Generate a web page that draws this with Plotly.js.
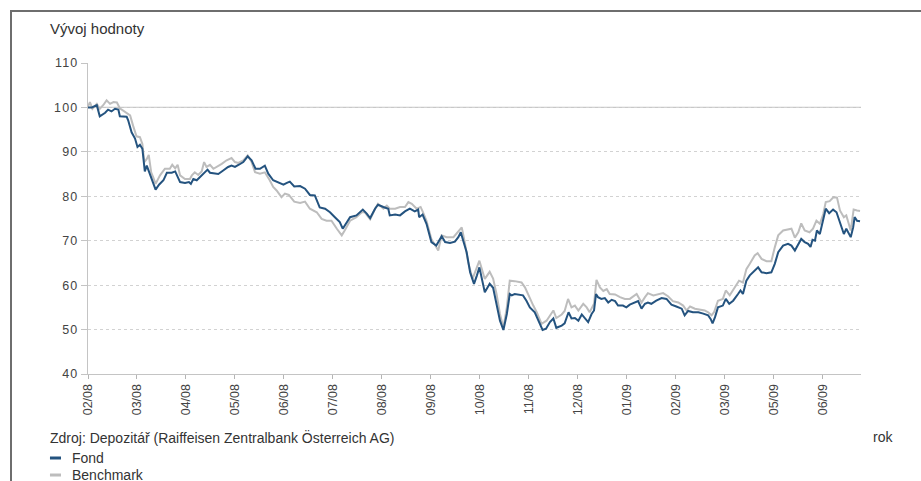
<!DOCTYPE html>
<html>
<head>
<meta charset="utf-8">
<script src="https://cdn.plot.ly/plotly-3.0.1.min.js"></script>
<style>
  html, body { margin: 0; padding: 0; background: #fff; }
  #wrap { position: relative; width: 921px; height: 481px; overflow: hidden; }
  #frame { position: absolute; left: 10px; top: 10px; width: 930px; height: 500px;
           border-left: 2px solid #6e6e6e; border-top: 2px solid #6e6e6e; }
  #chart { position: absolute; left: 0; top: 0; width: 921px; height: 481px; }
  #chart .yaxislayer-above text { letter-spacing: 1.2px; }
</style>
</head>
<body>
<div id="wrap">
  <div id="frame"></div>
  <div id="chart"></div>
</div>
<script>
// Tick labels (evenly spaced, one per tick position index)
const tickLabels = ["02/08","03/08","04/08","05/08","06/08","07/08","08/08","09/08",
                    "10/08","11/08","12/08","01/09","02/09","03/09","05/09","06/09"];
const tickPositions = tickLabels.map((_, i) => i);

// Fond: position (in tick-interval units) and value
const fondX = [0.00,0.08,0.18,0.24,0.35,0.41,0.48,0.55,0.62,0.65,0.79,0.82,0.89,0.96,1.01,1.06,1.11,1.16,1.20,1.24,
  1.30,1.38,1.45,1.54,1.61,1.71,1.78,1.81,1.88,1.98,2.06,2.10,2.15,2.22,2.29,2.39,2.44,2.49,2.59,2.66,
  2.76,2.86,2.93,3.00,3.08,3.17,3.26,3.34,3.42,3.51,3.61,3.68,3.78,3.88,3.99,4.06,4.12,4.21,4.33,4.43,
  4.53,4.63,4.73,4.84,4.94,5.04,5.14,5.20,5.28,5.35,5.48,5.61,5.69,5.76,5.86,5.92,6.03,6.13,6.16,6.27,
  6.37,6.47,6.57,6.67,6.74,6.76,6.83,6.91,7.01,7.11,7.22,7.29,7.39,7.49,7.56,7.61,7.66,7.73,7.80,7.88,
  7.94,7.99,8.10,8.20,8.27,8.34,8.41,8.48,8.55,8.61,8.65,8.71,8.82,8.88,8.95,9.02,9.12,9.19,9.28,9.35,
  9.43,9.50,9.56,9.67,9.73,9.81,9.87,9.94,10.01,10.08,10.14,10.21,10.28,10.33,10.37,10.41,10.48,10.55,10.62,10.69,
  10.76,10.82,10.92,10.99,11.06,11.16,11.23,11.30,11.37,11.43,11.50,11.60,11.71,11.81,11.91,12.01,12.12,12.18,12.25,12.35,
  12.46,12.56,12.66,12.71,12.75,12.80,12.86,12.96,13.02,13.09,13.17,13.27,13.32,13.37,13.44,13.51,13.61,13.68,13.75,13.85,
  13.95,14.02,14.09,14.19,14.29,14.36,14.43,14.50,14.56,14.63,14.70,14.75,14.79,14.84,14.88,14.94,14.99,15.06,15.13,15.21,
  15.28,15.35,15.43,15.48,15.57,15.62,15.65,15.70,15.76];
const fondY = [100.0,100.0,100.5,98.0,98.8,99.5,99.1,99.7,99.5,98.0,97.9,97.1,94.4,93.0,91.1,91.6,90.7,85.6,86.9,85.8,
  83.9,81.5,82.6,83.6,85.3,85.3,85.6,84.8,83.2,83.0,83.2,82.8,83.9,83.6,84.3,85.3,86.0,85.3,85.2,85.0,
  85.8,86.6,86.9,86.6,87.1,87.7,89.0,88.1,86.2,86.2,86.9,85.1,83.6,83.2,82.6,83.0,83.3,82.2,82.3,81.7,
  80.3,80.2,77.5,77.2,76.4,75.3,74.2,72.7,74.0,75.3,75.7,77.0,76.1,75.1,77.2,78.1,77.6,77.2,75.7,75.9,
  75.7,76.6,77.2,76.6,77.0,75.3,75.9,73.8,69.7,68.9,71.0,69.7,69.5,69.8,70.8,71.9,70.0,67.4,62.9,60.3,
  62.2,64.0,58.4,60.3,59.4,55.8,52.0,49.9,53.5,58.0,57.7,58.0,57.8,57.7,56.5,55.0,53.9,52.0,49.9,50.2,
  51.7,52.5,50.4,50.9,51.4,53.9,52.5,52.6,52.0,53.4,52.6,51.7,53.5,54.3,58.0,57.3,56.9,57.1,56.1,56.7,
  56.4,55.4,55.4,55.0,55.6,56.1,56.4,54.7,55.8,56.1,55.8,56.5,57.1,56.9,55.6,55.2,54.7,53.2,54.2,53.9,
  53.9,53.6,53.2,52.4,51.4,52.8,55.0,55.4,56.9,55.8,56.5,58.0,58.8,58.0,61.0,62.2,63.3,64.0,62.9,62.7,
  62.9,64.8,67.4,68.9,69.3,68.9,67.8,69.3,70.4,69.7,69.3,68.6,70.2,70.0,72.3,71.5,73.8,77.2,76.2,77.0,
  76.4,74.2,71.5,72.7,70.8,73.0,75.3,74.5,74.4];

// Benchmark: position (in tick-interval units) and value
const benchX = [0.00,0.04,0.09,0.18,0.24,0.31,0.38,0.45,0.52,0.59,0.65,0.72,0.79,0.86,0.92,0.99,1.06,1.11,1.15,1.20,
  1.24,1.29,1.33,1.38,1.47,1.57,1.67,1.72,1.78,1.83,1.88,1.98,2.08,2.12,2.18,2.25,2.32,2.37,2.42,2.49,
  2.56,2.63,2.73,2.83,2.93,3.00,3.07,3.17,3.26,3.34,3.41,3.51,3.61,3.71,3.78,3.85,3.95,4.02,4.10,4.21,
  4.33,4.43,4.53,4.67,4.77,4.87,4.97,5.08,5.18,5.24,5.35,5.48,5.59,5.65,5.76,5.86,5.92,6.03,6.10,6.16,
  6.27,6.37,6.47,6.54,6.61,6.71,6.79,6.84,6.91,7.01,7.15,7.22,7.32,7.46,7.56,7.63,7.69,7.76,7.85,7.92,
  7.99,8.10,8.20,8.27,8.34,8.41,8.48,8.55,8.61,8.71,8.85,8.92,8.99,9.09,9.16,9.26,9.36,9.43,9.50,9.56,
  9.67,9.73,9.80,9.87,9.94,10.01,10.11,10.18,10.24,10.33,10.38,10.45,10.52,10.59,10.65,10.76,10.86,10.96,11.06,11.20,
  11.30,11.37,11.43,11.54,11.64,11.74,11.84,11.94,12.05,12.15,12.22,12.29,12.39,12.49,12.59,12.66,12.73,12.78,12.86,12.96,
  13.02,13.10,13.20,13.29,13.37,13.44,13.51,13.61,13.67,13.75,13.85,13.95,14.02,14.09,14.19,14.29,14.36,14.43,14.50,14.56,
  14.63,14.73,14.80,14.87,14.94,15.01,15.06,15.14,15.22,15.29,15.35,15.43,15.48,15.57,15.63,15.70,15.76];
const benchY = [100.2,101.2,99.7,100.8,99.7,100.5,101.6,100.8,101.2,101.1,99.8,99.3,98.9,98.2,95.9,93.5,93.3,91.8,87.7,88.4,
  89.3,85.4,84.3,82.8,84.7,86.2,86.2,87.1,86.3,87.1,84.7,83.9,83.9,84.7,85.4,84.8,85.6,87.7,86.6,87.1,
  86.2,86.6,87.3,88.1,88.6,87.7,87.5,88.1,89.2,87.7,85.4,85.1,85.4,83.6,82.1,81.3,79.8,80.6,80.3,78.8,
  78.5,78.8,77.2,76.4,74.9,74.5,74.5,72.7,71.2,72.3,74.5,75.3,76.4,76.4,74.8,77.2,78.3,77.2,77.9,77.2,
  77.2,77.6,77.6,78.7,78.3,77.2,77.6,76.4,74.5,70.4,67.8,71.2,70.8,70.8,72.1,73.0,69.7,65.2,61.4,63.7,
  65.5,61.4,63.0,61.5,58.0,53.5,50.4,55.0,61.0,60.9,60.6,59.5,57.7,55.4,53.9,51.3,52.0,53.2,54.3,52.6,
  53.4,54.2,56.9,55.0,55.4,54.3,55.8,55.0,53.9,55.8,61.2,59.5,58.7,59.1,58.0,57.9,57.3,56.9,56.9,58.0,
  56.1,57.3,58.2,57.7,58.0,58.2,57.5,56.4,56.1,55.4,54.3,55.2,54.7,54.5,54.3,53.9,53.2,53.9,56.5,56.9,
  58.8,57.7,59.5,61.0,60.6,63.6,64.8,66.7,67.2,65.9,65.4,65.4,68.5,71.2,72.3,72.5,72.7,70.7,71.9,73.9,
  72.3,71.9,72.7,74.5,73.8,76.0,78.7,78.9,79.8,79.7,76.8,75.3,75.7,72.3,77.0,76.8,76.7];

const yTicks = [40, 50, 60, 70, 80, 90, 100, 110];
const baseline = 100;
const seriesNames = ["Fond", "Benchmark"];
const fondColor = "#24537f";
const benchColor = "#bdbdbd";

const font = "Liberation Sans, Arial, sans-serif";

const traces = [
  { x: benchX, y: benchY, type: "scatter", mode: "lines", name: seriesNames[1],
    line: { color: benchColor, width: 2 }, hoverinfo: "skip", showlegend: false },
  { x: fondX, y: fondY, type: "scatter", mode: "lines", name: seriesNames[0],
    line: { color: fondColor, width: 2 }, hoverinfo: "skip", showlegend: false }
];

const layout = {
  width: 921, height: 481,
  margin: { l: 88, r: 60, t: 63, b: 107, pad: 0 },
  paper_bgcolor: "rgba(0,0,0,0)",
  plot_bgcolor: "rgba(0,0,0,0)",
  font: { family: font, color: "#444", size: 12 },
  showlegend: false,
  xaxis: {
    range: [0, 15.78],
    tickmode: "array", tickvals: tickPositions, ticktext: tickLabels,
    tickangle: -90, ticks: "outside", ticklen: 4, tickcolor: "#b5b5b5",
    tickfont: { family: font, size: 12.5, color: "#444" },
    showgrid: false, zeroline: false,
    showline: true, linecolor: "#c4c4c4", linewidth: 1
  },
  yaxis: {
    range: [40, 110],
    tickmode: "array", tickvals: yTicks,
    ticks: "outside", ticklen: 6, tickcolor: "#c4c4c4",
    tickfont: { family: font, size: 12.5, color: "#444" },
    showgrid: true, gridcolor: "#d2d2d2", gridwidth: 1, griddash: "3px,3px",
    zeroline: false, showline: true, linecolor: "#c4c4c4", linewidth: 1
  },
  shapes: [
    { type: "line", xref: "paper", x0: 0, x1: 1, yref: "y", y0: baseline, y1: baseline,
      line: { color: "#c8c8c8", width: 1.2 }, layer: "below" },
    { type: "line", xref: "paper", x0: -0.0492, x1: -0.0349, yref: "paper", y0: -0.2701, y1: -0.2701,
      line: { color: fondColor, width: 3 } },
    { type: "line", xref: "paper", x0: -0.0492, x1: -0.0349, yref: "paper", y0: -0.3248, y1: -0.3248,
      line: { color: benchColor, width: 3 } }
  ],
  annotations: [
    { text: "Vývoj hodnoty", xref: "paper", yref: "paper", x: -0.0517, y: 1.1125,
      xanchor: "left", yanchor: "middle", showarrow: false,
      font: { family: font, size: 15, color: "#333" } },
    { text: "Zdroj: Depozitář (Raiffeisen Zentralbank Österreich AG)", xref: "paper", yref: "paper",
      x: -0.0517, y: -0.2026, xanchor: "left", yanchor: "middle", showarrow: false,
      font: { family: font, size: 14, color: "#333" } },
    { text: "rok", xref: "paper", yref: "paper", x: 1.0129, y: -0.2026,
      xanchor: "left", yanchor: "middle", showarrow: false,
      font: { family: font, size: 14, color: "#333" } },
    { text: seriesNames[0], xref: "paper", yref: "paper", x: -0.0233, y: -0.2701,
      xanchor: "left", yanchor: "middle", showarrow: false,
      font: { family: font, size: 14, color: "#333" } },
    { text: seriesNames[1], xref: "paper", yref: "paper", x: -0.0233, y: -0.3248,
      xanchor: "left", yanchor: "middle", showarrow: false,
      font: { family: font, size: 14, color: "#333" } }
  ]
};

Plotly.newPlot("chart", traces, layout, { displayModeBar: false, staticPlot: true });
</script>
</body>
</html>
